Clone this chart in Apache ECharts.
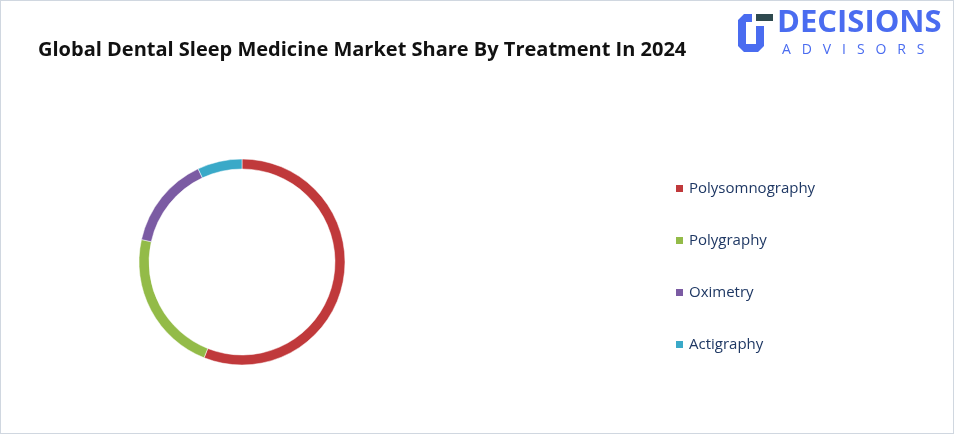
<!DOCTYPE html><html><head><meta charset="utf-8"><script src="https://cdn.jsdelivr.net/npm/echarts@6/dist/echarts.min.js"></script>
<style>html,body{margin:0;padding:0;background:#fff}#c{width:952px;height:432px;border:1px solid #d0d7e0}</style></head><body><div id="c"></div><script>
const categories=['Polysomnography','Polygraphy','Oximetry','Actigraphy'];
const values=[56,22.5,14.5,7];
const colors=['#c0393b','#93bb48','#7b5ba3','#3aa9c8'];
const chart=echarts.init(document.getElementById('c'));
chart.setOption({
title:{text:'Global Dental Sleep Medicine Market Share By Treatment In 2024',left:32,top:34,textStyle:{fontFamily:'Open Sans',fontSize:20,fontWeight:'bold',color:'#111'}},
legend:{orient:'vertical',left:668,top:175,itemGap:37,itemWidth:9,itemHeight:9,icon:'rect',textStyle:{fontFamily:'Open Sans',fontSize:15,color:'#1f3864'},data:categories},
graphic:[
{type:'text',x:776,y:7,style:{text:'DECISIONS',font:'bold 31px "Open Sans"',fill:'#4a6cf0'}},
{type:'text',x:781,y:42,style:{text:'A   D   V   I   S   O   R   S',font:'14px "Open Sans"',fill:'#4a6cf0'}},
{type:'polygon',shape:{points:[[751,13],[743,13],[737,19],[737,45],[743,51],[757,51],[763,45],[763,25],[755,25],[755,43],[745,43],[745,21],[751,21]]},style:{fill:'#4a6cf0'}},
{type:'rect',shape:{x:755,y:13,width:17,height:7},style:{fill:'#2f4a4f'}}
],
series:[{type:'pie',center:[241,261],radius:[93,103],startAngle:90,clockwise:true,label:{show:false},labelLine:{show:false},
itemStyle:{borderColor:'#fff',borderWidth:0.5},
data:categories.map((n,i)=>({name:n,value:values[i],itemStyle:{color:colors[i]}}))}]
});
</script></body></html>
